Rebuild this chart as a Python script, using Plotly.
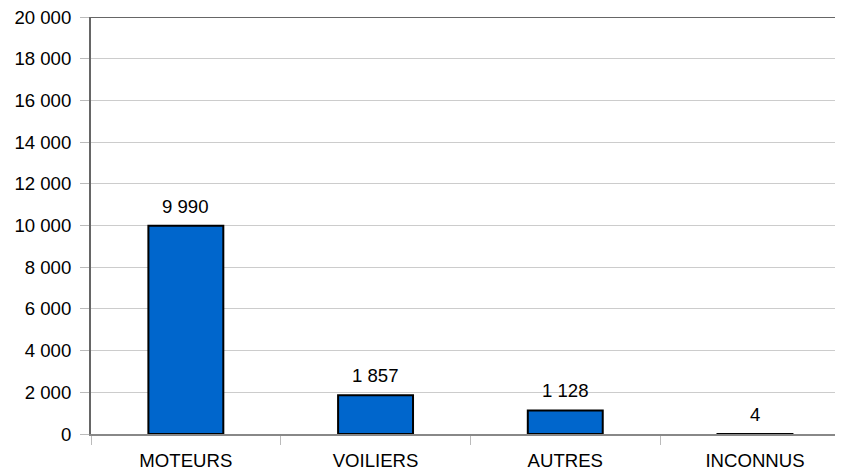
import plotly.graph_objects as go

categories = ['MOTEURS', 'VOILIERS', 'AUTRES', 'INCONNUS']
values = [9990, 1857, 1128, 4]
y_ticks = list(range(0, 20001, 2000))

labels = [f"{v:,}".replace(",", " ") for v in values]

fig = go.Figure()
fig.add_trace(go.Bar(
    x=categories,
    y=values,
    width=0.395,
    marker=dict(color='#0066CC', line=dict(color='#000000', width=2)),
    hoverinfo='x+y',
))

# value labels above the bars
for cat, val, lab in zip(categories, values, labels):
    fig.add_annotation(x=cat, y=val, text=lab, showarrow=False,
                       yanchor='bottom', yshift=7,
                       font=dict(size=18.6, color='#000000'))

# top frame line (LibreOffice style)
fig.add_shape(type='line', xref='paper', yref='y', x0=0, x1=1, y0=20000, y1=20000,
              line=dict(color='#666666', width=2))

# page body has an 8px margin, so the figure is shifted to compensate
fig.update_layout(
    width=835, height=463,
    margin=dict(l=83, r=0, t=9, b=37),
    paper_bgcolor='white', plot_bgcolor='white',
    font=dict(family='Liberation Sans, Arial, sans-serif', size=18.6, color='#000000'),
    showlegend=False,
    bargap=0.5,
)
fig.update_xaxes(
    type='category',
    range=[-0.5, 3.464],
    showline=True, linecolor='#888888', linewidth=2,
    ticks='outside', tickson='boundaries', ticklen=9, tickcolor='#bbbbbb', tickwidth=1,
    showgrid=False,
    tickfont=dict(size=18.6),
    ticklabelstandoff=9,
    ticklabeloverflow='allow',
    layer='below traces',
)
fig.update_yaxes(
    range=[0, 20000],
    tickvals=y_ticks,
    ticktext=[f"{t:,}".replace(",", " ") for t in y_ticks],
    showline=True, linecolor='#666666', linewidth=2,
    ticks='outside', ticklen=9, tickcolor='#bbbbbb', tickwidth=1,
    showgrid=True, gridcolor='#cccccc', gridwidth=1,
    zeroline=False,
    tickfont=dict(size=18.6),
    ticklabelstandoff=5,
    ticklabeloverflow='allow',
)

fig.write_html("out.html")
